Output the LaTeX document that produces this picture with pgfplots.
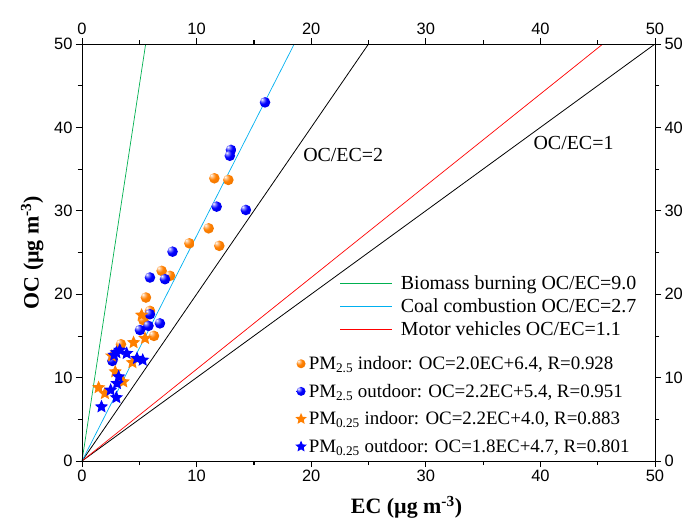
\documentclass[border=0pt]{standalone}
\usepackage{fontspec}
\setmainfont{Liberation Serif}
\setsansfont{Liberation Sans}
\usepackage{pgfplots}
\pgfplotsset{compat=1.18}
\usetikzlibrary{plotmarks}

\definecolor{mygreen}{RGB}{0,176,80}
\definecolor{mycyan}{RGB}{0,176,240}
\definecolor{myorange}{RGB}{255,127,0}
\definecolor{myblue}{RGB}{0,0,255}
\definecolor{myred}{RGB}{255,0,0}

\pgfdeclareradialshading{oballshade}{\pgfqpoint{-15bp}{15bp}}{%
  color(0bp)=(white); color(7bp)=(myorange!45!white); color(18bp)=(myorange);
  color(50bp)=(myorange!88!black); color(72bp)=(myorange!75!black)}
\pgfdeclareradialshading{bballshade}{\pgfqpoint{-15bp}{15bp}}{%
  color(0bp)=(white); color(7bp)=(myblue!45!white); color(18bp)=(myblue);
  color(50bp)=(myblue!82!black); color(72bp)=(myblue!65!black)}

\pgfdeclareplotmark{oball}{%
  \pgfpathcircle{\pgfpointorigin}{\pgfplotmarksize}%
  \pgfshadepath{oballshade}{0}%
  \pgfusepath{discard}%
}
\pgfdeclareplotmark{bball}{%
  \pgfpathcircle{\pgfpointorigin}{\pgfplotmarksize}%
  \pgfshadepath{bballshade}{0}%
  \pgfusepath{discard}%
}

\pgfdeclareplotmark{fstar}{%
  \pgfpathmoveto{\pgfpointpolar{90}{\pgfplotmarksize}}%
  \pgfpathlineto{\pgfpointpolar{126}{0.46\pgfplotmarksize}}%
  \pgfpathlineto{\pgfpointpolar{162}{\pgfplotmarksize}}%
  \pgfpathlineto{\pgfpointpolar{198}{0.46\pgfplotmarksize}}%
  \pgfpathlineto{\pgfpointpolar{234}{\pgfplotmarksize}}%
  \pgfpathlineto{\pgfpointpolar{270}{0.46\pgfplotmarksize}}%
  \pgfpathlineto{\pgfpointpolar{306}{\pgfplotmarksize}}%
  \pgfpathlineto{\pgfpointpolar{342}{0.46\pgfplotmarksize}}%
  \pgfpathlineto{\pgfpointpolar{18}{\pgfplotmarksize}}%
  \pgfpathlineto{\pgfpointpolar{54}{0.46\pgfplotmarksize}}%
  \pgfpathclose
  \pgfusepathqfill
}

\pgfplotsset{
  common/.style={
    at={(0,0)}, anchor=south west,
    width=573bp, height=417bp, scale only axis,
    xmin=0, xmax=50, ymin=0, ymax=50,
    xtick={0,10,...,50}, ytick={0,10,...,50},
    minor xtick={5,15,...,45}, minor ytick={5,15,...,45},
    tick align=outside,
    major tick length=6bp, minor tick length=4bp,
    every tick/.style={black, line width=0.8bp},
    axis line style={line width=0.9bp},
    tick label style={font=\sffamily\fontsize{16.5}{20}\selectfont},
    /pgf/number format/assume math mode=true,
  }
}

\begin{document}
\begin{tikzpicture}
\path[use as bounding box] (-82bp,-57bp) rectangle (606bp,461bp);
\begin{axis}[common,
  xlabel={EC (µg m\textsuperscript{-3})},
  ylabel={OC (µg m\textsuperscript{-3})},
  label style={font=\bfseries\fontsize{22}{25}\selectfont},
  xlabel style={xshift=38bp, yshift=-7bp},
  ylabel style={yshift=4bp},
  legend style={at={(axis cs:22.5,22.45)}, anchor=north west, draw=none, fill=none,
    font=\fontsize{20}{23}\selectfont, row sep=3.5bp, column sep=6bp, inner sep=0pt},
  legend cell align=left,
]
\addplot[black, line width=0.8bp, forget plot] coordinates {(0,0) (25,50)};
\addplot[black, line width=0.8bp, forget plot] coordinates {(0,0) (50,50)};
\addplot[mygreen, line width=0.7bp, forget plot] coordinates {(0,0) (5.556,50)};
\addplot[mycyan, line width=0.7bp, forget plot] coordinates {(0,0) (18.52,50)};
\addplot[myred, line width=0.7bp, forget plot] coordinates {(0,0) (45.45,50)};
\addlegendimage{legend image code/.code={\draw[draw=mygreen, line width=0.9bp] (0bp,0bp) -- (52bp,0bp);}}
\addlegendentry{Biomass burning OC/EC=9.0}
\addlegendimage{legend image code/.code={\draw[draw=mycyan, line width=0.9bp] (0bp,0bp) -- (52bp,0bp);}}
\addlegendentry{Coal combustion OC/EC=2.7}
\addlegendimage{legend image code/.code={\draw[draw=myred, line width=0.9bp] (0bp,0bp) -- (52bp,0bp);}}
\addlegendentry{Motor vehicles OC/EC=1.1}

% PM2.5 indoor
\addplot[only marks, mark=oball, mark size=5.3bp, forget plot] coordinates {
(11.55,33.9) (12.77,33.7) (11.05,27.9) (9.37,26.1) (11.98,25.8) (6.95,22.8) (7.68,22.2)
(5.58,19.6) (5.93,18.0) (5.35,16.9) (6.28,15.0) (3.4,14.0)};
% PM2.5 outdoor
\addplot[only marks, mark=bball, mark size=5.3bp, forget plot] coordinates {
(15.97,43.0) (13.0,37.3) (12.9,36.6) (11.75,30.5) (14.3,30.1) (7.9,25.1) (5.93,22.0)
(7.24,21.8) (5.93,17.6) (5.8,16.2) (6.8,16.5) (5.06,15.7) (2.65,12.0)};
% PM0.25 indoor
\addplot[only marks, mark=fstar, mark size=7bp, color=myorange, forget plot] coordinates {
(1.45,8.8) (2.0,8.1) (2.9,10.7) (3.6,9.5) (4.4,11.8) (4.5,14.2) (5.5,14.7) (5.2,17.5) (2.6,12.6)};
% PM0.25 outdoor
\addplot[only marks, mark=fstar, mark size=7bp, color=myblue, forget plot] coordinates {
(1.7,6.5) (2.5,8.5) (3.0,7.6) (3.2,10.1) (3.05,9.3) (2.8,12.7) (3.3,13.3) (3.9,12.9)
(4.8,12.3) (5.3,12.1) (3.0,13.0)};

\node[anchor=west, font=\fontsize{20}{23}\selectfont] at (axis cs:19.0,36.7) {OC/EC=2};
\node[anchor=west, font=\fontsize{20}{23}\selectfont] at (axis cs:39.1,38.1) {OC/EC=1};
\end{axis}

\begin{axis}[common,
  xticklabel pos=upper, yticklabel pos=right,
  legend style={at={(axis cs:18.6,12.8)}, anchor=north west, draw=none, fill=none,
    font=\fontsize{19}{22}\selectfont, row sep=9bp, inner sep=0pt},
  legend cell align=left,
  legend image code/.code={\draw[#1] plot coordinates {(0bp,0bp)};},
]
\addlegendimage{only marks, mark=oball, mark size=4.5bp}
\addlegendentry{PM\textsubscript{2.5} indoor: OC=2.0EC+6.4, R=0.928}
\addlegendimage{only marks, mark=bball, mark size=4.5bp}
\addlegendentry{PM\textsubscript{2.5} outdoor: OC=2.2EC+5.4, R=0.951}
\addlegendimage{only marks, mark=fstar, mark size=6bp, color=myorange}
\addlegendentry{PM\textsubscript{0.25} indoor: OC=2.2EC+4.0, R=0.883}
\addlegendimage{only marks, mark=fstar, mark size=6bp, color=myblue}
\addlegendentry{PM\textsubscript{0.25} outdoor: OC=1.8EC+4.7, R=0.801}
\end{axis}
\end{tikzpicture}
\end{document}
